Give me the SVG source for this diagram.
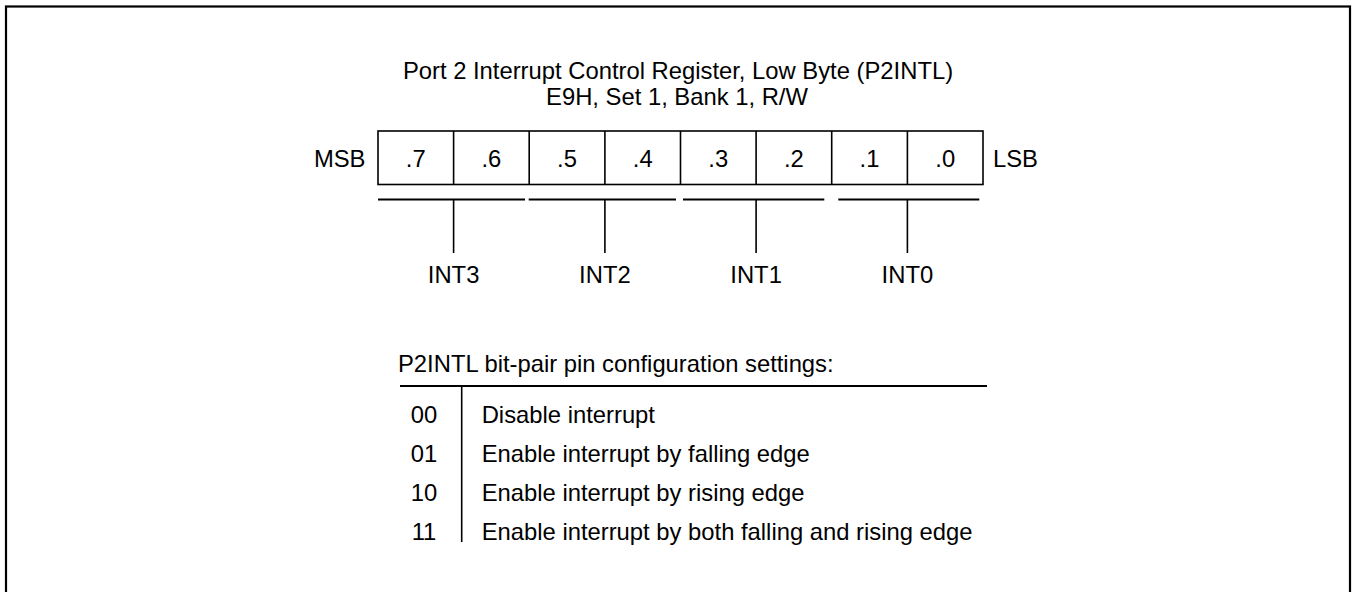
<svg xmlns="http://www.w3.org/2000/svg" width="1356" height="592" viewBox="0 0 1356 592">
<style>
text{font-family:"Liberation Sans",Arial,sans-serif;font-size:23.8px;fill:#000}
.c{text-anchor:middle}
.ln{stroke:#000;fill:none}
</style>
<rect x="0" y="0" width="1356" height="592" fill="#fff"/>
<rect class="ln" x="6" y="6.5" width="1344" height="620" stroke-width="2.2"/>
<g id="title">
<text class="c" x="678" y="78.5">Port 2 Interrupt Control Register, Low Byte (P2INTL)</text>
<text class="c" x="677" y="104.5">E9H, Set 1, Bank 1, R/W</text>
</g>
<g id="register">
<text x="365.5" y="167" text-anchor="end">MSB</text>
<rect class="ln" x="378" y="131" width="605" height="53.5" stroke-width="1.6"/>
<path class="ln" stroke-width="1.6" d="M453.6 131V184.5M529.2 131V184.5M604.9 131V184.5M680.5 131V184.5M756.1 131V184.5M831.7 131V184.5M907.4 131V184.5"/>
<text class="c" x="415.8" y="167">.7</text>
<text class="c" x="491.4" y="167">.6</text>
<text class="c" x="567" y="167">.5</text>
<text class="c" x="642.7" y="167">.4</text>
<text class="c" x="718.3" y="167">.3</text>
<text class="c" x="793.9" y="167">.2</text>
<text class="c" x="869.5" y="167">.1</text>
<text class="c" x="945.2" y="167">.0</text>
<text x="993" y="167">LSB</text>
</g>
<g id="connectors">
<path class="ln" stroke-width="2" d="M378 199.5H525M528.7 199.5H676M683 199.5H824.3M838.3 199.5H979.3"/>
<path class="ln" stroke-width="1.6" d="M453.6 199.5V253M604.9 199.5V253M756.1 199.5V253M907.4 199.5V253"/>
</g>
<g id="int3"><text class="c" x="453.6" y="282.5">INT3</text></g>
<g id="int2"><text class="c" x="604.9" y="282.5">INT2</text></g>
<g id="int1"><text class="c" x="756.1" y="282.5">INT1</text></g>
<g id="int0"><text class="c" x="907.4" y="282.5">INT0</text></g>
<g id="table">
<text x="398" y="372">P2INTL bit-pair pin configuration settings:</text>
<path class="ln" stroke-width="2" d="M400 386H987"/>
<path class="ln" stroke-width="1.6" d="M461.7 386V542"/>
<text class="c" x="424" y="422.7">00</text>
<text x="481.7" y="422.7">Disable interrupt</text>
<text class="c" x="424" y="461.7">01</text>
<text x="481.7" y="461.7">Enable interrupt by falling edge</text>
<text class="c" x="424" y="500.7">10</text>
<text x="481.7" y="500.7">Enable interrupt by rising edge</text>
<text class="c" x="424" y="539.7">11</text>
<text x="481.7" y="539.7">Enable interrupt by both falling and rising edge</text>
</g>
</svg>
